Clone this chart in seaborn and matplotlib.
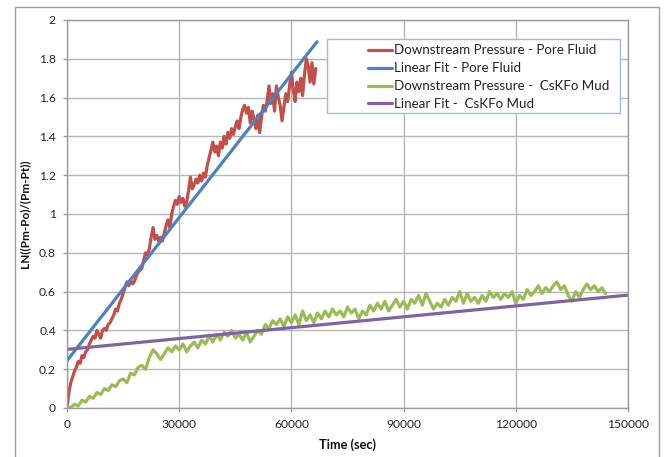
import numpy as np
import pandas as pd
import seaborn as sns
import matplotlib
matplotlib.use("Agg")
import matplotlib.pyplot as plt
from matplotlib.patches import Rectangle
from matplotlib.ticker import FuncFormatter, MultipleLocator

# ---------------- data ----------------
pore_step = 500  # seconds between samples
pore_vals = [
    0.00, 0.08, 0.13, 0.16, 0.19, 0.21, 0.24, 0.23, 0.27, 0.26,
    0.29, 0.30, 0.33, 0.35, 0.37, 0.36, 0.40, 0.38, 0.36, 0.40,
    0.41, 0.40, 0.43, 0.44, 0.46, 0.48, 0.51, 0.50, 0.54, 0.56,
    0.59, 0.62, 0.65, 0.63, 0.66, 0.64, 0.65, 0.68, 0.70, 0.71,
    0.72, 0.76, 0.80, 0.79, 0.82, 0.88, 0.93, 0.87, 0.89, 0.86,
    0.88, 0.86, 0.90, 0.94, 0.97, 0.93, 1.00, 1.04, 1.07, 1.05,
    1.09, 1.06, 1.08, 1.04, 1.06, 1.12, 1.19, 1.13, 1.15, 1.18,
    1.16, 1.20, 1.17, 1.21, 1.19, 1.25, 1.29, 1.33, 1.37, 1.32,
    1.35, 1.30, 1.37, 1.34, 1.40, 1.36, 1.42, 1.39, 1.44, 1.41,
    1.45, 1.48, 1.44, 1.50, 1.54, 1.56, 1.52, 1.55, 1.47, 1.53,
    1.49, 1.44, 1.51, 1.42, 1.50, 1.56, 1.53, 1.58, 1.66, 1.57,
    1.62, 1.53, 1.66, 1.60, 1.56, 1.48, 1.55, 1.62, 1.58, 1.66,
    1.73, 1.64, 1.58, 1.68, 1.63, 1.70, 1.61, 1.72, 1.80, 1.76,
    1.68, 1.78, 1.67, 1.75,
]
pore_time = [i * pore_step for i in range(len(pore_vals))]

mud_step = 1000
mud_vals = [
    0.01, 0.00, 0.02, 0.01, 0.04, 0.03, 0.06, 0.05, 0.08, 0.07,
    0.10, 0.09, 0.12, 0.11, 0.14, 0.15, 0.13, 0.18, 0.17, 0.21,
    0.22, 0.20, 0.26, 0.30, 0.28, 0.25, 0.28, 0.31, 0.29, 0.32,
    0.30, 0.33, 0.29, 0.32, 0.34, 0.31, 0.35, 0.33, 0.37, 0.34,
    0.38, 0.35, 0.39, 0.37, 0.40, 0.36, 0.38, 0.35, 0.39, 0.34,
    0.37, 0.40, 0.38, 0.43, 0.41, 0.45, 0.43, 0.46, 0.42, 0.47,
    0.44, 0.48, 0.43, 0.50, 0.45, 0.48, 0.44, 0.49, 0.46, 0.50,
    0.47, 0.51, 0.48, 0.50, 0.47, 0.52, 0.49, 0.51, 0.46, 0.50,
    0.48, 0.53, 0.50, 0.54, 0.51, 0.55, 0.50, 0.53, 0.56, 0.52,
    0.55, 0.51, 0.56, 0.54, 0.58, 0.53, 0.59, 0.55, 0.51, 0.54,
    0.52, 0.56, 0.53, 0.57, 0.55, 0.60, 0.54, 0.59, 0.55, 0.57,
    0.54, 0.58, 0.55, 0.60, 0.57, 0.59, 0.56, 0.59, 0.57, 0.60,
    0.54, 0.58, 0.56, 0.61, 0.58, 0.60, 0.63, 0.59, 0.62, 0.60,
    0.63, 0.65, 0.61, 0.63, 0.58, 0.55, 0.60, 0.57, 0.61, 0.64,
    0.61, 0.63, 0.60, 0.62, 0.59,
]
mud_time = [i * mud_step for i in range(len(mud_vals))]

fit_pore_time = [0, 66850]
fit_pore_vals = [0.244, 1.888]
fit_mud_time = [0, 150000]
fit_mud_vals = [0.302, 0.582]

labels = [
    "Downstream Pressure - Pore Fluid",
    "Linear Fit - Pore Fluid",
    "Downstream Pressure -  CsKFo Mud",
    "Linear Fit -  CsKFo Mud",
]
colors = ["#C0504D", "#4F81BD", "#9BBB59", "#8064A2"]

x_ticks = [0, 30000, 60000, 90000, 120000, 150000]

# ---------------- plot ----------------
sns.set_theme(style="white")
plt.rcParams["font.family"] = ["Lato", "DejaVu Sans"]

fig = plt.figure(figsize=(6.67, 4.57), dpi=100)
ax = fig.add_axes([67 / 667, 1 - 408 / 457, (628 - 67) / 667, (408 - 20) / 457])

series = [
    (pore_time, pore_vals),
    (fit_pore_time, fit_pore_vals),
    (mud_time, mud_vals),
    (fit_mud_time, fit_mud_vals),
]
for (t, v), lab, col in zip(series, labels, colors):
    sns.lineplot(x=t, y=v, ax=ax, color=col, lw=2.3, label=lab)

ax.set_xlim(0, 150000)
ax.set_ylim(0, 2)
ax.set_xticks(x_ticks)
ax.yaxis.set_major_locator(MultipleLocator(0.2))
ax.yaxis.set_major_formatter(FuncFormatter(lambda v, p: f"{round(v, 1):g}"))
ax.xaxis.set_major_formatter(FuncFormatter(lambda v, p: f"{int(v)}"))

ax.grid(True, color="#b5b5b5", lw=1.0)
ax.set_axisbelow(True)
for s in ax.spines.values():
    s.set_color("#9a9a9a")
    s.set_linewidth(1.0)

ax.tick_params(axis="both", which="major", length=3, width=1, color="#9a9a9a",
               labelsize=8.7, labelcolor="#222222", pad=5,
               bottom=True, left=True, direction="out")

ax.set_xlabel("Time (sec)", fontsize=9.2, fontweight="bold", color="#111111", labelpad=6)
ax.set_ylabel("LN((Pm-Po)/(Pm-Pt))", fontsize=8.5, fontweight="bold", color="#111111", labelpad=6)

# legend box
box = Rectangle((0.463, 0.760), 0.523, 0.191, transform=ax.transAxes,
                facecolor="white", edgecolor="#9fbae0", lw=1.0, zorder=4, clip_on=False)
ax.add_patch(box)
leg = ax.legend(loc="upper left", bbox_to_anchor=(0.536, 0.937), frameon=False,
                fontsize=9.6, handlelength=1.8, handletextpad=0.2, labelspacing=0.44,
                borderpad=0, borderaxespad=0)
leg.set_zorder(5)
for txt in leg.get_texts():
    txt.set_color("#222222")

# outer frame of chart area
frame = Rectangle((14.5 / 667, -0.2), (658.5 - 14.5) / 667, 1.2 - 7 / 457,
                  transform=fig.transFigure, facecolor="none", edgecolor="#a0a0a0",
                  lw=1.0, clip_on=False)
fig.patches.append(frame)

fig.savefig("out.png", dpi=100)
